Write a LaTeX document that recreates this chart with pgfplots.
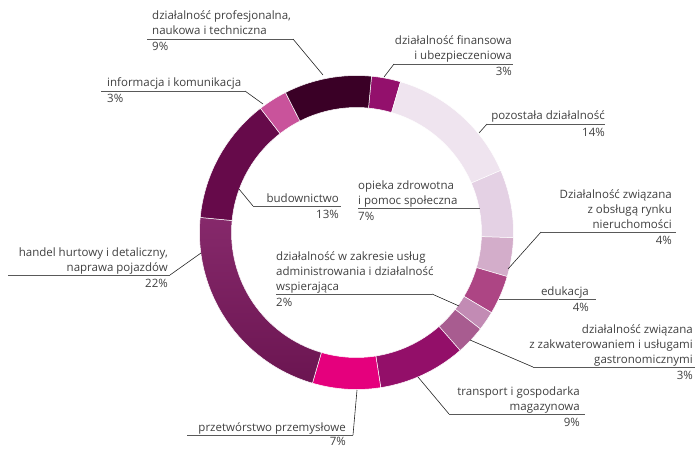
\documentclass[border=0pt]{standalone}
\usepackage{pgfplots}
\pgfplotsset{compat=1.18}
\usepackage{pgfplotstable}
\usepackage{fontspec}
\setmainfont{Open Sans}

\definecolor{cProf}{HTML}{3A0026}
\definecolor{cFin}{HTML}{93106C}
\definecolor{cPoz}{HTML}{EFE4EF}
\definecolor{cOpi}{HTML}{E4D1E4}
\definecolor{cNie}{HTML}{D3ADCA}
\definecolor{cEdu}{HTML}{AD4584}
\definecolor{cAdm}{HTML}{C28BB4}
\definecolor{cZak}{HTML}{A85C90}
\definecolor{cTra}{HTML}{930F69}
\definecolor{cPrz}{HTML}{E5007D}
\definecolor{cHanA}{HTML}{86296B}
\definecolor{cHanB}{HTML}{6B1551}
\definecolor{cBud}{HTML}{660A4A}
\definecolor{cInf}{HTML}{C9539B}
\definecolor{txt}{HTML}{404040}

\tikzset{
  wFin/.style={fill=cFin}, wPoz/.style={fill=cPoz}, wOpi/.style={fill=cOpi},
  wNie/.style={fill=cNie}, wEdu/.style={fill=cEdu}, wAdm/.style={fill=cAdm},
  wZak/.style={fill=cZak}, wTra/.style={fill=cTra}, wPrz/.style={fill=cPrz},
  wHan/.style={top color=cHanA, bottom color=cHanB},
  wBud/.style={fill=cBud}, wInf/.style={fill=cInf}, wProf/.style={fill=cProf},
  lab/.style={inner sep=0pt, text=txt, font=\fontsize{11.5}{15}\selectfont},
  rule/.style={draw=black!65, line width=0.8pt},
  lead/.style={draw=black!85, line width=0.6pt},
}

% share of each section, clockwise from the top
\pgfplotstableread{
value sty
3  wFin
14 wPoz
7  wOpi
4  wNie
4  wEdu
2  wAdm
3  wZak
9  wTra
7  wPrz
22 wHan
13 wBud
3  wInf
9  wProf
}\donutdata

\newcommand\tl[3]{\node[lab, anchor=base west] at (axis cs:#1,#2) {#3};}
\newcommand\tr[3]{\node[lab, anchor=base east] at (axis cs:#1,#2) {#3};}

\begin{document}
\begin{tikzpicture}
\begin{axis}[
  at={(0,0)}, anchor=south west,
  x=1pt, y=1pt, scale only axis,
  xmin=0, xmax=695, ymin=0, ymax=448,
  hide axis, clip=false,
]
\pgfplotstablegetrowsof{\donutdata}
\pgfmathtruncatemacro\nrows{\pgfplotsretval-1}
\def\cum{0}
\pgfplotsforeachungrouped \i in {0,...,\nrows}{%
  \pgfplotstablegetelem{\i}{value}\of\donutdata \let\v\pgfplotsretval
  \pgfplotstablegetelem{\i}{sty}\of\donutdata \let\sty\pgfplotsretval
  \pgfmathsetmacro\aone{90-5.5-3.6*\cum}%
  \pgfmathsetmacro\atwo{\aone-3.6*\v}%
  \pgfmathsetmacro\xo{356.5+157*cos(\aone)}%
  \pgfmathsetmacro\yo{215.5+157*sin(\aone)}%
  \pgfmathsetmacro\xin{356.5+125*cos(\atwo)}%
  \pgfmathsetmacro\yin{215.5+125*sin(\atwo)}%
  \edef\cmd{\noexpand\path[draw=white, line width=0.5pt, \sty] (axis cs:\xo,\yo) arc[start angle=\aone, end angle=\atwo, radius=157pt] -- (axis cs:\xin,\yin) arc[start angle=\atwo, end angle=\aone, radius=125pt] -- cycle;}%
  \cmd
  \pgfmathsetmacro\cum{\cum+\v}%
}

% działalność profesjonalna
\tl{152}{428}{działalność profesjonalna,}
\tl{152}{413}{naukowa i techniczna}
\tl{152}{397}{9\%}
\draw[rule] (axis cs:147,409) -- (axis cs:293,409);
\draw[lead] (axis cs:293,409) -- (axis cs:323,373);
% informacja
\tl{107}{361}{informacja i komunikacja}
\tl{107}{345}{3\%}
\draw[rule] (axis cs:101,357) -- (axis cs:245,357);
\draw[lead] (axis cs:245,357) -- (axis cs:263,344);
% budownictwo
\tr{339}{246}{budownictwo}
\tr{339}{230}{13\%}
\draw[rule] (axis cs:253,242) -- (axis cs:341,242);
\draw[lead] (axis cs:253,242) -- (axis cs:239,259);
% handel
\tr{168}{192}{handel hurtowy i detaliczny,}
\tr{168}{177}{naprawa pojazdów}
\tr{168}{161}{22\%}
\draw[rule] (axis cs:8,173) -- (axis cs:170,173);
\draw[lead] (axis cs:170,173) -- (axis cs:201,195);
% administrowanie
\tl{276}{188}{działalność w zakresie usług}
\tl{276}{173}{administrowania i działalność}
\tl{276}{158}{wspierająca}
\tl{276}{142}{2\%}
\draw[rule] (axis cs:276,154) -- (axis cs:432,154);
\draw[lead] (axis cs:432,154) -- (axis cs:459,142);
% opieka
\tl{358}{259}{opieka zdrowotna}
\tl{358}{244}{i pomoc społeczna}
\tl{358}{228}{7\%}
\draw[rule] (axis cs:358,240) -- (axis cs:480,240);
% finansowa
\tr{512}{403}{działalność finansowa}
\tr{512}{388}{i ubezpieczeniowa}
\tr{512}{372}{3\%}
\draw[rule] (axis cs:394,384) -- (axis cs:513,384);
\draw[lead] (axis cs:394,384) -- (axis cs:384,371);
% pozostała
\tr{605}{328}{pozostała działalność}
\tr{605}{312}{14\%}
\draw[rule] (axis cs:487,324) -- (axis cs:605,324);
\draw[lead] (axis cs:487,324) -- (axis cs:479,315);
% nieruchomości
\tr{672}{250}{Działalność związana}
\tr{672}{235}{z obsługą rynku}
\tr{672}{220}{nieruchomości}
\tr{672}{204}{4\%}
\draw[rule] (axis cs:541,216) -- (axis cs:676,216);
\draw[lead] (axis cs:541,216) -- (axis cs:508,179);
% edukacja
\tr{589}{153}{edukacja}
\tr{589}{137}{4\%}
\draw[rule] (axis cs:499,149) -- (axis cs:596,149);
% zakwaterowanie
\tr{693}{115}{działalność związana}
\tr{693}{100}{z zakwaterowaniem i usługami}
\tr{693}{85}{gastronomicznymi}
\tr{693}{69}{3\%}
\draw[rule] (axis cs:533,81) -- (axis cs:695,81);
\draw[lead] (axis cs:533,81) -- (axis cs:470,108);
% transport
\tr{580}{53}{transport i gospodarka}
\tr{580}{38}{magazynowa}
\tr{580}{22}{9\%}
\draw[rule] (axis cs:449,34) -- (axis cs:585,34);
\draw[lead] (axis cs:449,34) -- (axis cs:418,71);
% przetwórstwo
\tr{346}{17}{przetwórstwo przemysłowe}
\tr{346}{2.5}{7\%}
\draw[rule] (axis cs:187,13) -- (axis cs:353,13);
\draw[lead] (axis cs:353,13) -- (axis cs:357,58);
\end{axis}
\pgfresetboundingbox
\path[use as bounding box] (0,0) rectangle (695pt,448pt);
\end{tikzpicture}
\end{document}
